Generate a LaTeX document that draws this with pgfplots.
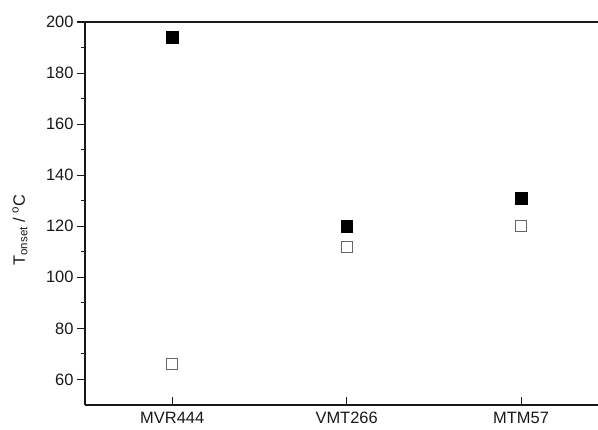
\documentclass[border=0pt]{standalone}
\usepackage{pgfplots}
\pgfplotsset{compat=1.18}
\usepackage{fontspec}
\setmainfont{Liberation Sans}
\begin{document}
\begin{tikzpicture}
\begin{axis}[
  name=ax,
  scale only axis,
  width=513bp, height=383bp,
  xmin=-0.5, xmax=2.441,
  ymin=50, ymax=200,
  axis x line*=box,
  axis y line*=left,
  axis line style={line width=1.5bp, black!90},
  xtick={0,1,2},
  xticklabels={MVR444,VMT266,MTM57},
  x tick style={line width=1.1bp, black!90},
  xtick pos=bottom,
  xtick align=inside,
  ytick={60,80,...,200},
  minor y tick num=1,
  ytick align=outside,
  ytick pos=left,
  y tick style={line width=1.1bp, black!90},
  major tick length=8bp,
  minor tick length=4bp,
  tick label style={font=\fontsize{16.5}{18}\selectfont, text=black!90},
  xticklabel style={yshift=-4bp},
  /pgf/number format/assume math mode=true,
  ylabel={T\textsubscript{onset} / \textsuperscript{o}C},
  ylabel style={font=\fontsize{16.5}{18}\selectfont, text=black!90,
    at={(axis description cs:-0.142,0.457)}, anchor=north, inner sep=0pt},
  clip=false,
]
\addplot[only marks, mark=square*, mark size=5.8bp, mark options={fill=black, draw=black, line width=0.4bp}]
  coordinates {(0,194) (1,120) (2,131)};
\addplot[only marks, mark=square, mark size=5.5bp, mark options={draw=black!60, line width=1.1bp}]
  coordinates {(0,66) (1,112) (2,120)};
\end{axis}
\pgfresetboundingbox
\path ([shift={(-85bp,-25bp)}]ax.south west) rectangle ([shift={(0bp,22bp)}]ax.north east);
\end{tikzpicture}
\end{document}
